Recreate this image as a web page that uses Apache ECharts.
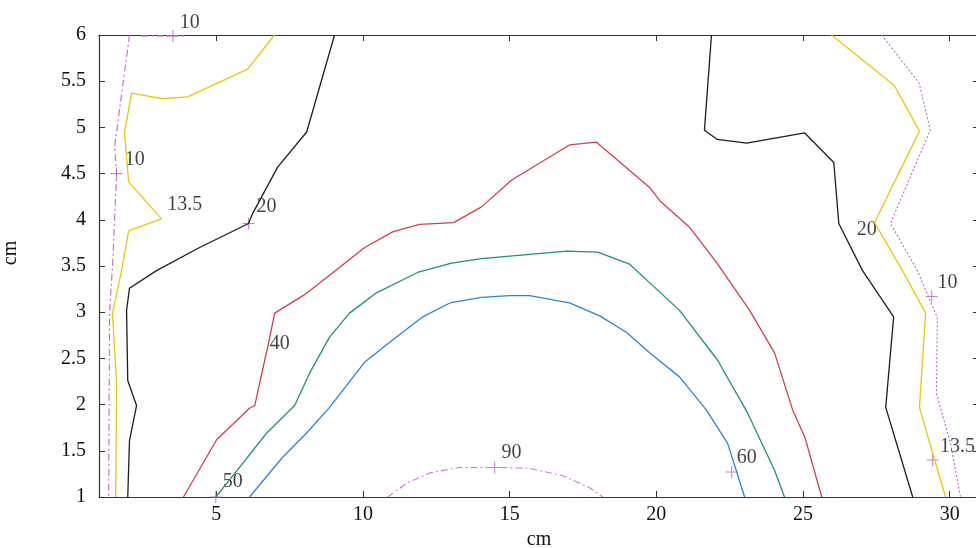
<!DOCTYPE html>
<html>
<head>
<meta charset="utf-8">
<script src="https://cdn.jsdelivr.net/npm/echarts@6/dist/echarts.min.js"></script>
<style>
html,body{margin:0;padding:0;background:#fff;}
#chart{width:976px;height:548px;}
</style>
</head>
<body>
<div id="chart"></div>
<script>
// Axis ticks
const xTicks = [5, 10, 15, 20, 25, 30];
const yRange = [1, 6];
const xRange = [1, 31];

// Contour lines: [x, y] in cm
const c10Left = [[2.04,6],[1.53,4.79],[1.60,4.50],[1.46,3.49],[1.36,2.99],[1.33,1.0]];
const c10Top = [[2.45,5.99],[3.52,5.99],[4.0,5.99]];
const c10Right = [[27.68,6],[28.96,5.48],[29.34,4.97],[27.98,3.96],[28.90,3.45],[29.58,2.94],[29.55,2.12],[30.03,1.58],[30.37,1.0]];
const c135Left = [[6.98,6],[6.07,5.63],[4.02,5.33],[3.17,5.31],[2.11,5.37],[1.87,4.94],[2.01,4.41],[3.13,4.01],[2.01,3.88],[1.77,3.45],[1.46,2.99],[1.60,2.23],[1.57,1.0]];
const c135Right = [[25.97,6],[28.12,5.45],[28.97,4.96],[27.44,3.97],[28.39,3.45],[29.18,2.99],[28.97,1.97],[29.49,1.40],[29.86,1.0]];
const c20Left = [[9.03,6],[8.08,4.95],[7.09,4.57],[6.24,4.07],[6.10,3.96],[4.43,3.70],[2.96,3.45],[2.04,3.26],[1.94,3.02],[1.98,2.26],[2.28,1.99],[2.04,1.61],[1.98,1.0]];
const c20Right = [[21.88,6],[21.64,4.97],[22.08,4.87],[23.08,4.83],[25.06,4.94],[26.05,4.62],[26.22,3.96],[27.03,3.45],[28.09,2.95],[27.82,1.97],[28.74,1.0]];
const c40 = [[3.88,1.0],[5.01,1.62],[6.13,1.96],[6.31,1.99],[6.65,2.48],[6.75,2.62],[6.99,2.99],[8.01,3.19],[8.86,3.40],[10.06,3.70],[11.01,3.87],[11.93,3.95],[13.09,3.97],[14.04,4.14],[15.07,4.43],[17.04,4.81],[17.96,4.84],[18.99,4.56],[19.77,4.35],[20.11,4.21],[21.13,3.92],[22.05,3.54],[23.18,3.02],[24.03,2.56],[24.65,1.94],[25.06,1.65],[25.64,1.0]];
const c50 = [[4.98,1.0],[5.79,1.32],[6.71,1.69],[7.67,1.99],[8.18,2.34],[8.86,2.73],[9.54,2.99],[10.46,3.21],[11.86,3.43],[13.02,3.53],[14.04,3.58],[16.94,3.66],[18.00,3.65],[19.09,3.52],[19.77,3.32],[20.79,3.02],[22.09,2.48],[23.11,1.91],[24.03,1.29],[24.37,1.0]];
const c60 = [[6.13,1.0],[7.26,1.43],[8.07,1.69],[8.86,1.97],[10.06,2.46],[11.01,2.70],[12.04,2.95],[12.96,3.10],[14.04,3.16],[15.00,3.18],[15.68,3.18],[17.04,3.10],[18.07,2.96],[18.99,2.78],[19.77,2.56],[20.79,2.30],[21.71,1.94],[22.43,1.58],[23.01,1.0]];
const c90 = [[10.84,1.0],[11.49,1.15],[12.27,1.26],[13.29,1.32],[14.49,1.32],[15.68,1.31],[16.81,1.23],[17.73,1.10],[18.18,1.0]];

// Label markers (+) and contour labels
const markerPts = [[3.52,5.99],[1.60,4.50],[6.10,3.96],[14.49,1.32],[22.57,1.27],[29.39,3.17],[29.42,1.40],[4.98,1.0]];
const contourLabels = [[4.09,6.13,'10'],[2.22,4.65,'10'],[3.92,4.16,'13.5'],[6.71,4.14,'20'],[7.16,2.66,'40'],[5.56,1.17,'50'],[15.06,1.48,'90'],[23.08,1.43,'60'],[27.17,3.89,'20'],[29.93,3.32,'10'],[30.27,1.54,'13.5']];

const FONT = 'Liberation Serif';
const AX = '#333';

function line(data, color, type, width) {
  return {
    type: 'line', data: data, symbol: 'none', silent: true, clip: false,
    lineStyle: { color: color, width: width || 1.3, type: type || 'solid' }
  };
}

const chart = echarts.init(document.getElementById('chart'), null, { renderer: 'canvas' });
chart.setOption({
  animation: false,
  backgroundColor: '#fff',
  grid: { left: 99, top: 35, right: -3, bottom: 51, containLabel: false, outerBoundsMode: 'none' },
  xAxis: [{
    type: 'value', min: xRange[0], max: xRange[1], position: 'bottom',
    name: 'cm', nameLocation: 'middle', nameGap: 33,
    nameTextStyle: { fontFamily: FONT, fontSize: 20, color: '#111' },
    axisLine: { show: true, onZero: false, lineStyle: { color: AX, width: 1.2 } },
    axisTick: { show: true, inside: true, length: 6, customValues: xTicks, lineStyle: { color: AX } },
    axisLabel: { show: true, customValues: xTicks, fontFamily: FONT, fontSize: 20, color: '#111', margin: 8 },
    splitLine: { show: false }
  }, {
    type: 'value', min: xRange[0], max: xRange[1], position: 'top',
    axisLine: { show: true, onZero: false, lineStyle: { color: AX, width: 1.2 } },
    axisTick: { show: true, inside: true, length: 6, customValues: xTicks, lineStyle: { color: AX } },
    axisLabel: { show: false },
    splitLine: { show: false }
  }],
  yAxis: [{
    type: 'value', min: yRange[0], max: yRange[1], interval: 0.5, position: 'left',
    name: 'cm', nameLocation: 'middle', nameGap: 78, nameRotate: 90,
    nameTextStyle: { fontFamily: FONT, fontSize: 20, color: '#111', padding: [0, 0, 0, 26] },
    axisLine: { show: true, onZero: false, lineStyle: { color: AX, width: 1.2 } },
    axisTick: { show: true, inside: true, length: 6, lineStyle: { color: AX } },
    axisLabel: { show: true, fontFamily: FONT, fontSize: 20, color: '#111', margin: 13 },
    splitLine: { show: false }
  }, {
    type: 'value', min: yRange[0], max: yRange[1], interval: 0.5, position: 'right',
    axisLine: { show: true, onZero: false, lineStyle: { color: AX, width: 1.2 } },
    axisTick: { show: true, inside: true, length: 6, lineStyle: { color: AX } },
    axisLabel: { show: false },
    splitLine: { show: false }
  }],
  series: [
    line(c10Left, '#c468c8', [7, 3, 2, 3], 1.1),
    line(c10Top, '#c468c8', [7, 3, 2, 3], 1.1),
    line(c10Right, '#b46cc4', [2, 2], 1.1),
    line(c135Left, '#e8c80c', 'solid', 1.3),
    line(c135Right, '#e8c80c', 'solid', 1.3),
    line(c20Left, '#1e1e1e', 'solid', 1.3),
    line(c20Right, '#1e1e1e', 'solid', 1.3),
    line(c40, '#d0404c', 'solid', 1.3),
    line(c50, '#1f9560', 'solid', 1.3),
    line(c60, '#2a86d0', 'solid', 1.3),
    line(c90, '#d07ad0', [7, 3, 2, 3], 1.1),
    {
      type: 'scatter', data: markerPts, silent: true, clip: false,
      symbol: 'path://M0,6L12,6M6,0L6,12', symbolSize: 12,
      itemStyle: { color: 'none', borderColor: '#c060c8', borderWidth: 1.1 }
    },
    {
      type: 'scatter', silent: true, clip: false,
      data: contourLabels.map(d => ({ value: [d[0], d[1]], name: d[2] })),
      symbolSize: 1, itemStyle: { color: 'rgba(0,0,0,0)' },
      label: {
        show: true, position: 'inside', formatter: p => p.name,
        fontFamily: FONT, fontSize: 20, color: '#111'
      }
    }
  ]
});
</script>
</body>
</html>
